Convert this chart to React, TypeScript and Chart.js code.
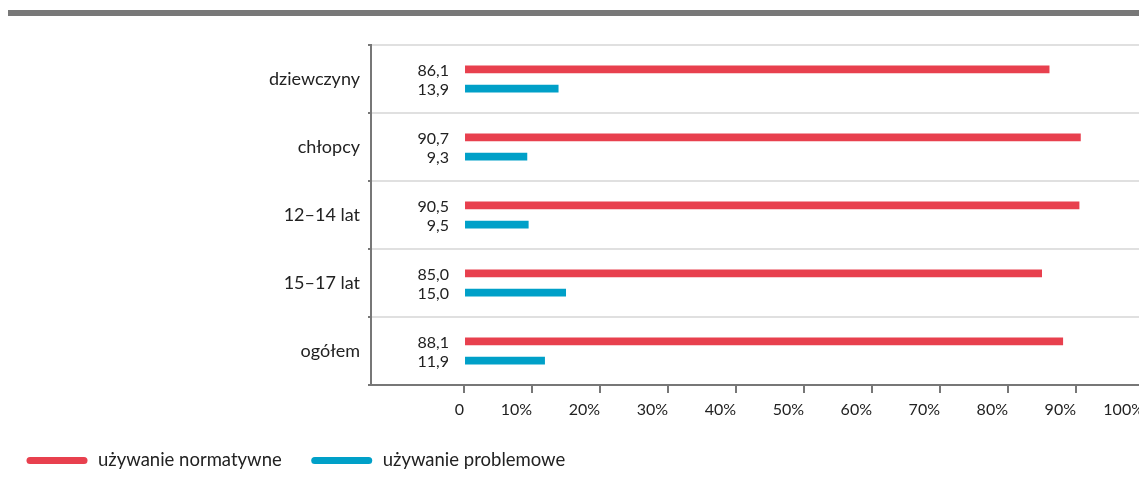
import React, { useEffect, useRef } from "react";
import { Chart, registerables } from "chart.js";

Chart.register(...registerables);

const categories = ["dziewczyny", "chłopcy", "12–14 lat", "15–17 lat", "ogółem"];
const normatywne = [86.1, 90.7, 90.5, 85.0, 88.1];
const problemowe = [13.9, 9.3, 9.5, 15.0, 11.9];
const seriesLabels = ["używanie normatywne", "używanie problemowe"];
const seriesColors = ["#E8404E", "#00A0C8"];
const xTickValues = [0, 10, 20, 30, 40, 50, 60, 70, 80, 90, 100];

const FONT = "Lato";
const TEXT = "#222222";
const AXIS = "#777777";

const valueLabels = {
  id: "valueLabels",
  afterDatasetsDraw(chart: any) {
    const ctx = chart.ctx;
    const x0 = chart.scales.x.getPixelForValue(0) - 15;
    ctx.save();
    ctx.font = `16px ${FONT}`;
    ctx.fillStyle = TEXT;
    ctx.textAlign = "right";
    ctx.textBaseline = "middle";
    chart.data.datasets.forEach((ds: any, i: number) => {
      const meta = chart.getDatasetMeta(i);
      meta.data.forEach((bar: any, j: number) => {
        const v = ds.data[j] as number;
        ctx.fillText(v.toFixed(1).replace(".", ","), x0, bar.y + 1);
      });
    });
    ctx.restore();
  },
};

const customLegend = {
  id: "customLegend",
  afterDraw(chart: any) {
    const ctx = chart.ctx;
    ctx.save();
    ctx.font = `18.5px ${FONT}`;
    ctx.textBaseline = "middle";
    ctx.textAlign = "left";
    let x = 30;
    const y = 460.5;
    chart.data.datasets.forEach((ds: any) => {
      ctx.strokeStyle = ds.backgroundColor;
      ctx.lineWidth = 7;
      ctx.lineCap = "round";
      ctx.beginPath();
      ctx.moveTo(x, y);
      ctx.lineTo(x + 54, y);
      ctx.stroke();
      ctx.fillStyle = TEXT;
      const tx = x + 68;
      ctx.fillText(ds.label, tx, y);
      x = tx + ctx.measureText(ds.label).width + 33;
    });
    ctx.restore();
  },
};

export default function App() {
  const ref = useRef<HTMLCanvasElement>(null);

  useEffect(() => {
    if (!ref.current) return;
    Chart.defaults.font.family = FONT;
    const chart = new Chart(ref.current, {
      type: "bar",
      data: {
        labels: categories,
        datasets: [
          {
            label: seriesLabels[0],
            data: normatywne,
            backgroundColor: seriesColors[0],
            categoryPercentage: 0.565,
            barPercentage: 0.4,
          },
          {
            label: seriesLabels[1],
            data: problemowe,
            backgroundColor: seriesColors[1],
            categoryPercentage: 0.565,
            barPercentage: 0.4,
          },
        ],
      },
      options: {
        indexAxis: "y",
        responsive: false,
        animation: false,
        layout: { padding: { top: 45, left: 0, right: 16, bottom: 0 } },
        plugins: {
          legend: { display: false },
          tooltip: { enabled: false },
        },
        scales: {
          x: {
            type: "linear",
            min: -13.68,
            max: 100,
            afterBuildTicks: (scale: any) => {
              scale.ticks = xTickValues.map((v) => ({ value: v }));
            },
            afterFit: (scale: any) => {
              scale.height = 94;
            },
            border: { display: true, color: AXIS, width: 2 },
            grid: {
              drawOnChartArea: false,
              drawTicks: true,
              tickLength: 8,
              tickColor: AXIS,
              lineWidth: 2,
            },
            ticks: {
              align: "end",
              padding: 7,
              color: TEXT,
              font: { size: 16, family: FONT },
              callback: (v: any) => (Number(v) === 0 ? "0" : `${v}%`),
            },
          },
          y: {
            type: "category",
            afterFit: (scale: any) => {
              scale.width = 371;
            },
            border: { display: true, color: AXIS, width: 2 },
            grid: {
              color: "#E0E0E0",
              lineWidth: 2,
              tickColor: AXIS,
              tickLength: 3,
            },
            ticks: {
              padding: 8,
              color: TEXT,
              font: { size: 18, family: FONT },
            },
          },
        },
      },
      plugins: [valueLabels, customLegend],
    } as any);
    return () => chart.destroy();
  }, []);

  return (
    <div
      style={{
        position: "absolute",
        left: 0,
        top: 0,
        width: 1139,
        height: 479,
        overflow: "hidden",
        background: "#ffffff",
      }}
    >
      <div
        style={{
          position: "absolute",
          left: 8,
          top: 10,
          width: 1131,
          height: 6,
          background: "#787878",
        }}
      />
      <canvas
        ref={ref}
        width={1160}
        height={479}
        style={{ position: "absolute", left: 0, top: 0, width: 1160, height: 479 }}
      />
    </div>
  );
}
